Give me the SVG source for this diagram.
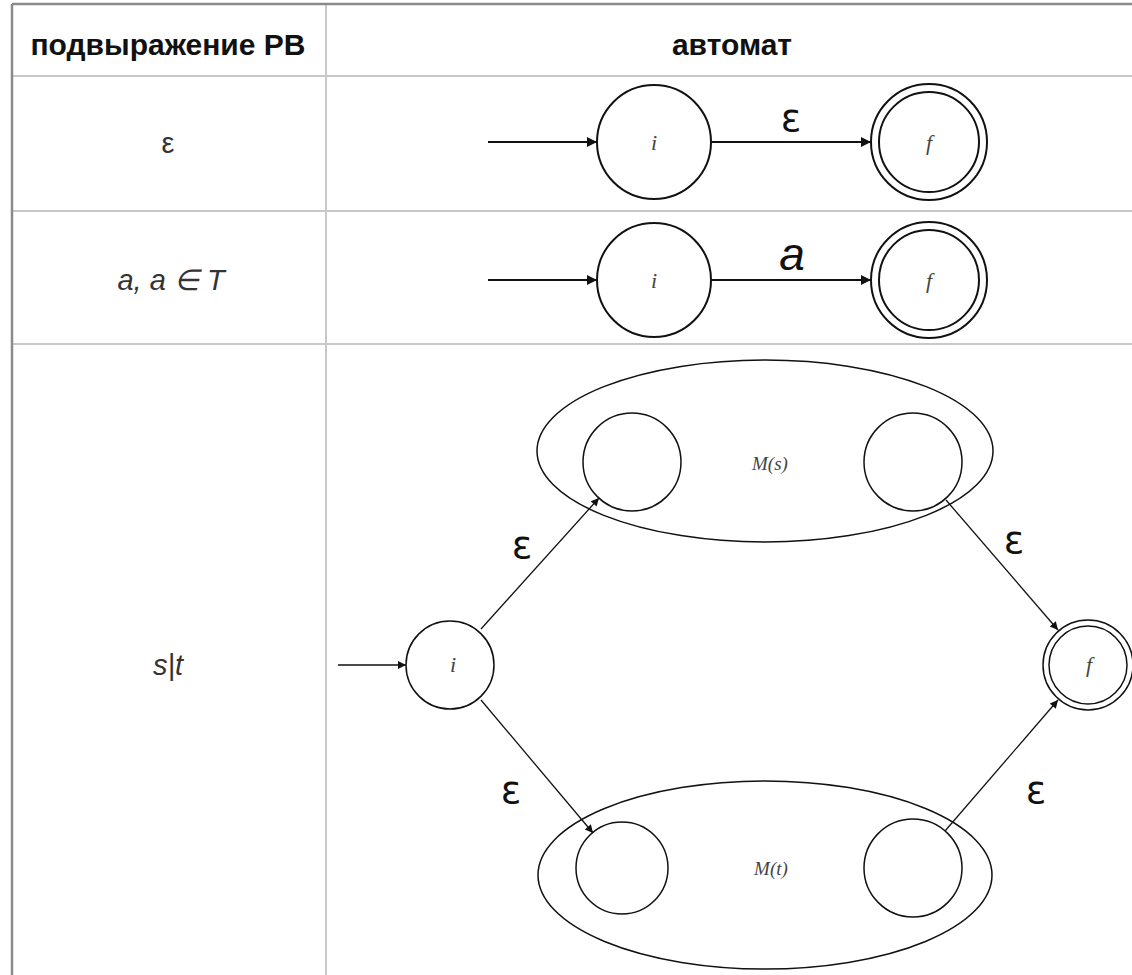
<svg xmlns="http://www.w3.org/2000/svg" width="1132" height="975" viewBox="0 0 1132 975">
  <style>
    .grid { stroke: #c8c8c8; stroke-width: 2; fill: none; }
    .frame { stroke: #8a8a8a; stroke-width: 2.5; fill: none; }
    .head { font-family: "Liberation Sans", Arial, sans-serif; font-weight: bold; font-size: 30px; fill: #111; text-anchor: middle; }
    .cell { font-family: "Liberation Sans", Arial, sans-serif; font-size: 29px; fill: #333; text-anchor: middle; }
    .it { font-style: italic; }
    .state { fill: #fff; stroke: #111; stroke-width: 2; }
    .state-thin { fill: none; stroke: #111; stroke-width: 1.5; }
    .edge { stroke: #111; stroke-width: 2; fill: none; }
    .edge-thin { stroke: #111; stroke-width: 1.3; fill: none; }
    .sname { font-family: "Liberation Serif", "Times New Roman", serif; font-style: italic; font-size: 22px; fill: #444; text-anchor: middle; }
    .mname { font-family: "Liberation Serif", "Times New Roman", serif; font-style: italic; font-size: 19px; fill: #444; text-anchor: middle; }
    .eps { font-family: "DejaVu Sans", "Liberation Sans", sans-serif; font-size: 38px; fill: #111; text-anchor: middle; }
    .sym { font-family: "Liberation Sans", Arial, sans-serif; font-style: italic; font-size: 46px; fill: #111; text-anchor: middle; }
  </style>
  <defs>
    <marker id="arrBig" viewBox="0 0 10 10" refX="10" refY="5" markerWidth="13" markerHeight="10" markerUnits="userSpaceOnUse" orient="auto">
      <path d="M0,0 L10,5 L0,10 z" fill="#111"/>
    </marker>
    <marker id="arrSm" viewBox="0 0 10 10" refX="10" refY="5" markerWidth="11" markerHeight="8" markerUnits="userSpaceOnUse" orient="auto">
      <path d="M0,0 L10,5 L0,10 z" fill="#111"/>
    </marker>
  </defs>

  <rect width="1132" height="975" fill="#fff"/>

  <!-- table grid -->
  <g id="table">
    <line class="grid" x1="12" y1="76" x2="1132" y2="76"/>
    <line class="grid" x1="12" y1="211" x2="1132" y2="211"/>
    <line class="grid" x1="12" y1="344" x2="1132" y2="344"/>
    <line class="grid" x1="326" y1="4" x2="326" y2="975"/>
    <line class="frame" x1="12" y1="4" x2="1132" y2="4"/>
    <line class="frame" x1="12" y1="4" x2="12" y2="975"/>
    <text class="head" x="168" y="55">подвыражение РВ</text>
    <text class="head" x="732" y="55">автомат</text>
    <text class="cell" x="168" y="153">ε</text>
    <text class="cell it" x="171" y="290">a, a ∈ T</text>
    <text class="cell it" x="168" y="675">s|t</text>
  </g>

  <!-- row 1: epsilon -->
  <g id="r1-i">
    <circle class="state" cx="654" cy="142" r="57"/>
    <text class="sname" x="654" y="150">i</text>
  </g>
  <g id="r1-f">
    <circle class="state" cx="929" cy="142" r="58"/>
    <circle class="state" cx="929" cy="142" r="50"/>
    <text class="sname" x="929" y="150">f</text>
  </g>

  <!-- row 2: symbol a -->
  <g id="r2-i">
    <circle class="state" cx="654" cy="280" r="57"/>
    <text class="sname" x="654" y="288">i</text>
  </g>
  <g id="r2-f">
    <circle class="state" cx="929" cy="280" r="58"/>
    <circle class="state" cx="929" cy="280" r="50"/>
    <text class="sname" x="929" y="288">f</text>
  </g>

  <!-- row 3: alternation s|t -->
  <g id="r3-Ms">
    <ellipse class="state-thin" cx="765" cy="451" rx="228" ry="91"/>
    <circle class="state-thin" cx="632" cy="462" r="49"/>
    <circle class="state-thin" cx="913" cy="462" r="49"/>
    <text class="mname" x="770" y="470">M(s)</text>
  </g>
  <g id="r3-Mt">
    <ellipse class="state-thin" cx="765" cy="875" rx="227" ry="94"/>
    <circle class="state-thin" cx="622" cy="868" r="46"/>
    <circle class="state-thin" cx="913" cy="868" r="49"/>
    <text class="mname" x="771" y="875">M(t)</text>
  </g>
  <g id="r3-i">
    <circle class="state-thin" cx="450" cy="665" r="44"/>
    <text class="sname" x="453" y="672" font-size="17">i</text>
  </g>
  <g id="r3-f">
    <circle class="state-thin" cx="1088" cy="665" r="45"/>
    <circle class="state-thin" cx="1088" cy="665" r="39"/>
    <text class="sname" x="1089" y="672" font-size="17">f</text>
  </g>

  <!-- connectors -->
  <g id="connectors">
    <line class="edge" x1="488" y1="142" x2="597" y2="142" marker-end="url(#arrBig)"/>
    <line class="edge" x1="711" y1="142" x2="871" y2="142" marker-end="url(#arrBig)"/>
    <text class="eps" x="791" y="131">ε</text>

    <line class="edge" x1="488" y1="280" x2="597" y2="280" marker-end="url(#arrBig)"/>
    <line class="edge" x1="711" y1="280" x2="871" y2="280" marker-end="url(#arrBig)"/>
    <text class="sym" x="792" y="270">a</text>

    <line class="edge-thin" x1="338" y1="665" x2="406" y2="665" marker-end="url(#arrSm)"/>
    <line class="edge-thin" x1="481" y1="629" x2="599" y2="498" marker-end="url(#arrSm)"/>
    <line class="edge-thin" x1="481" y1="700" x2="593" y2="833" marker-end="url(#arrSm)"/>
    <line class="edge-thin" x1="946" y1="500" x2="1058" y2="630" marker-end="url(#arrSm)"/>
    <line class="edge-thin" x1="945" y1="831" x2="1058" y2="700" marker-end="url(#arrSm)"/>
    <text class="eps" x="522" y="558">ε</text>
    <text class="eps" x="511" y="803">ε</text>
    <text class="eps" x="1014" y="553">ε</text>
    <text class="eps" x="1036" y="803">ε</text>
  </g>
</svg>
